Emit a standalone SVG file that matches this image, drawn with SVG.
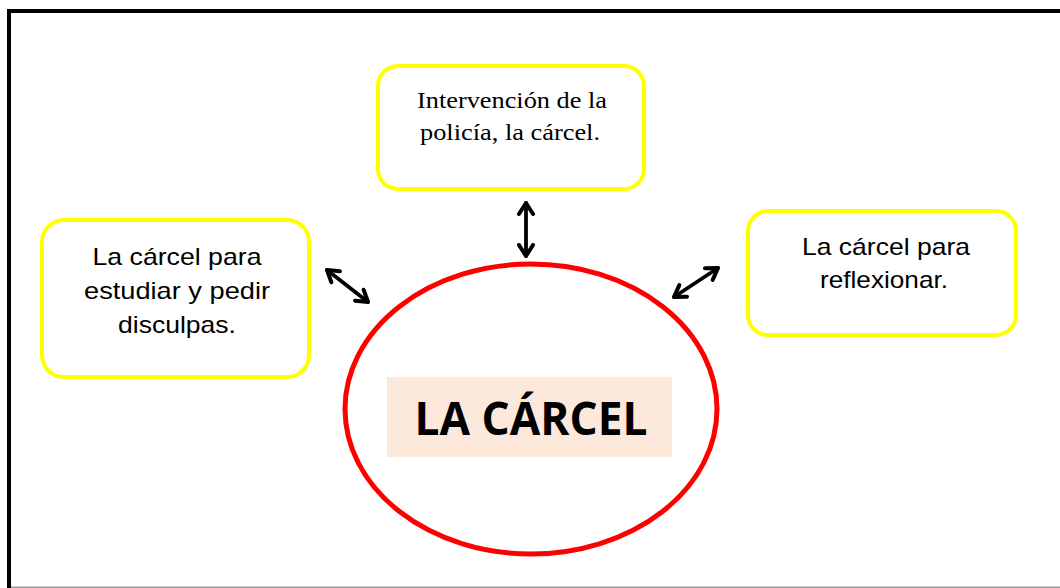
<svg xmlns="http://www.w3.org/2000/svg" width="1060" height="588" viewBox="0 0 1060 588">
  <style>
    .box { fill: #ffffff; stroke: #ffff00; stroke-width: 4; }
    .sans { font-family: "Liberation Sans", Arial, sans-serif; font-size: 24px; fill: #000; }
    .serif { font-family: "Liberation Serif", "Times New Roman", serif; font-size: 24px; fill: #000; }
    .conn { stroke: #000; stroke-width: 3.8; fill: none; stroke-linecap: round; }
  </style>
  <defs>
    <marker id="head" viewBox="0 0 16 18" refX="13.5" refY="9" markerWidth="16" markerHeight="18" markerUnits="userSpaceOnUse" orient="auto-start-reverse">
      <path d="M2.5,2 L13.5,9 L2.5,16" fill="none" stroke="#000" stroke-width="4" stroke-linecap="round" stroke-linejoin="round"/>
    </marker>
  </defs>
  <rect x="0" y="0" width="1060" height="588" fill="#ffffff"/>
  <g id="frame">
    <path d="M9,588 L9,11 L1060,11" fill="none" stroke="#000" stroke-width="4"/>
    <line x1="11" y1="587.3" x2="1060" y2="587.3" stroke="#999" stroke-width="1.5"/>
  </g>
  <g id="center">
    <ellipse cx="531" cy="409" rx="186" ry="145" fill="#ffffff" stroke="#ff0000" stroke-width="5"/>
    <rect x="387" y="377" width="285" height="80" fill="#fce9dc"/>
    <text x="531" y="435" text-anchor="middle" font-family="'Open Sans', 'Liberation Sans', sans-serif" font-weight="bold" font-size="46" textLength="233" lengthAdjust="spacingAndGlyphs">LA CÁRCEL</text>
  </g>
  <g id="node-top">
    <rect class="box" x="378" y="66" width="266" height="123" rx="20"/>
    <text class="serif" x="512" y="108" text-anchor="middle" textLength="190" lengthAdjust="spacingAndGlyphs">Intervención de la</text>
    <text class="serif" x="510" y="140" text-anchor="middle" textLength="180" lengthAdjust="spacingAndGlyphs">policía, la cárcel.</text>
  </g>
  <g id="node-left">
    <rect class="box" x="42" y="220" width="267" height="157" rx="22"/>
    <text class="sans" x="177" y="265" text-anchor="middle" textLength="169" lengthAdjust="spacingAndGlyphs">La cárcel para</text>
    <text class="sans" x="177" y="299" text-anchor="middle" textLength="186" lengthAdjust="spacingAndGlyphs">estudiar y pedir</text>
    <text class="sans" x="177" y="333" text-anchor="middle" textLength="118" lengthAdjust="spacingAndGlyphs">disculpas.</text>
  </g>
  <g id="node-right">
    <rect class="box" x="748" y="211" width="268" height="124" rx="20"/>
    <text class="sans" x="886" y="255" text-anchor="middle" textLength="168" lengthAdjust="spacingAndGlyphs">La cárcel para</text>
    <text class="sans" x="884" y="288" text-anchor="middle" textLength="128" lengthAdjust="spacingAndGlyphs">reflexionar.</text>
  </g>
  <g id="connectors">
    <line class="conn" x1="526" y1="203" x2="526" y2="256" marker-start="url(#head)" marker-end="url(#head)"/>
    <line class="conn" x1="327" y1="270" x2="368" y2="302" marker-start="url(#head)" marker-end="url(#head)"/>
    <line class="conn" x1="718" y1="268" x2="674" y2="297" marker-start="url(#head)" marker-end="url(#head)"/>
  </g>
</svg>
